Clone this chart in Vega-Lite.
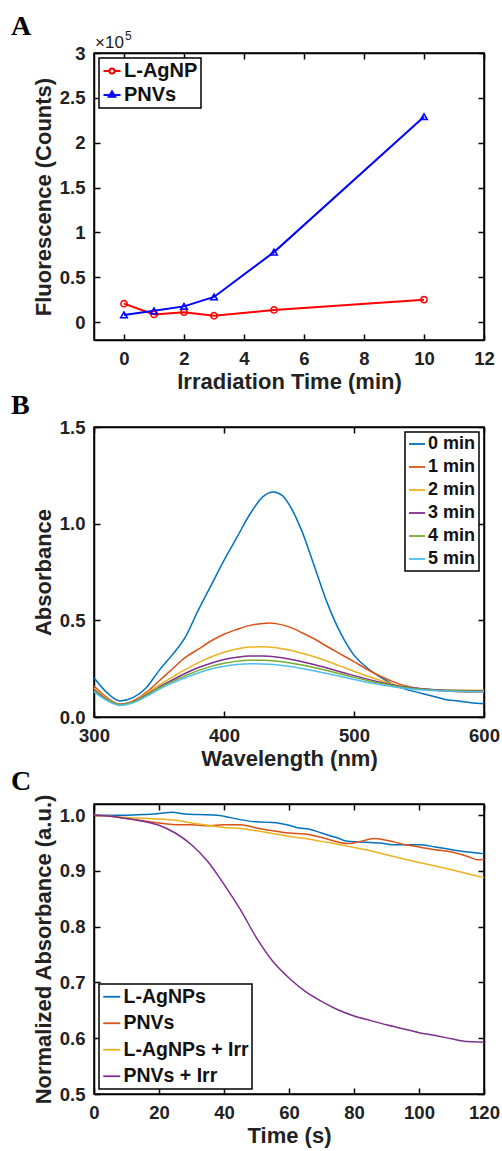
{
  "$schema": "https://vega.github.io/schema/vega-lite/v6.json",
  "padding": {"left": 10, "top": 12, "right": 0, "bottom": 0},
  "background": "white",
  "bounds": "flush",
  "spacing": 87,
  "resolve": {"scale": {"color": "independent"}, "legend": {"color": "independent"}},
  "config": {
    "font": "Liberation Sans",
    "view": {"stroke": "black", "strokeWidth": 1.5},
    "axis": {
      "domainColor": "black", "domainWidth": 1.5,
      "tickColor": "black", "tickWidth": 1.5, "tickSize": -6,
      "labelFont": "Liberation Sans", "labelFontWeight": "bold", "labelFontSize": 18.5, "labelColor": "#222222",
      "labelFlush": false, "labelOverlap": false,
      "titleFont": "Liberation Sans", "titleFontWeight": "bold", "titleFontSize": 22, "titleColor": "#222222",
      "grid": false, "labelPadding": 15, "titlePadding": 4
    },
    "legend": {
      "title": null, "strokeColor": "black", "strokeWidth": 1.5, "fillColor": "white",
      "labelFont": "Liberation Sans", "labelFontWeight": "bold", "labelColor": "#111111",
      "padding": 3, "labelOffset": 2, "symbolStrokeWidth": 1.8
    },
    "title": {"font": "Liberation Serif", "fontSize": 28, "fontWeight": "bold", "color": "black", "anchor": "start", "frame": "group", "baseline": "alphabetic"}
  },
  "vconcat": [
    {
      "width": 390, "height": 287,
      "title": {"text": "A", "dx": -83, "offset": -11},
      "data": {"values": [
        {"time": 0, "series": "L-AgNP", "counts": 20500},
        {"time": 1, "series": "L-AgNP", "counts": 8500},
        {"time": 2, "series": "L-AgNP", "counts": 11000},
        {"time": 3, "series": "L-AgNP", "counts": 7000},
        {"time": 5, "series": "L-AgNP", "counts": 13500},
        {"time": 10, "series": "L-AgNP", "counts": 25000},
        {"time": 0, "series": "PNVs", "counts": 8000},
        {"time": 1, "series": "PNVs", "counts": 12500},
        {"time": 2, "series": "PNVs", "counts": 17500},
        {"time": 3, "series": "PNVs", "counts": 28000},
        {"time": 5, "series": "PNVs", "counts": 78000},
        {"time": 10, "series": "PNVs", "counts": 229000}
      ]},
      "layer": [
        {
          "mark": {"type": "line", "strokeWidth": 2},
          "encoding": {
            "x": {"field": "time", "type": "quantitative", "scale": {"domain": [-1, 12], "nice": false, "zero": false},
                  "axis": {"orient": "bottom", "values": [0, 2, 4, 6, 8, 10, 12], "title": "Irradiation Time (min)"}},
            "y": {"field": "counts", "type": "quantitative", "scale": {"domain": [-20000, 300000], "nice": false, "zero": false},
                  "axis": {"orient": "left", "values": [0, 50000, 100000, 150000, 200000, 250000, 300000], "labelExpr": "datum.value / 100000 + ''", "title": "Fluorescence (Counts)"}},
            "color": {"field": "series", "type": "nominal", "scale": {"domain": ["L-AgNP", "PNVs"], "range": ["#ff0000", "#0000ff"]},
              "legend": {
                "orient": "top-left", "offset": 5, "labelFontSize": 20, "rowPadding": 4, "symbolSize": 289, "symbolStrokeWidth": 2,
                "encode": {"symbols": {"update": {
                  "shape": {"signal": "datum.value === 'L-AgNP' ? 'M-1,0H-0.3M0.3,0H1M-0.3,0A0.3,0.3 0 1,1 0.3,0A0.3,0.3 0 1,1 -0.3,0' : 'M-1,0H1M-0.38,0.22L0,-0.42L0.38,0.22Z'"},
                  "fill": {"signal": "datum.value === 'L-AgNP' ? 'transparent' : '#0000ff'"},
                  "stroke": {"signal": "datum.value === 'L-AgNP' ? '#ff0000' : '#0000ff'"},
                  "strokeWidth": {"value": 2},
                  "opacity": {"value": 1}
                }}}
              }}
          }
        },
        {
          "transform": [{"filter": "datum.series === 'L-AgNP'"}],
          "mark": {"type": "point", "shape": "circle", "filled": false, "strokeWidth": 1.5, "size": 40, "opacity": 1},
          "encoding": {
            "x": {"field": "time", "type": "quantitative", "axis": {"orient": "top", "values": [0, 2, 4, 6, 8, 10, 12], "labels": false, "title": null}},
            "y": {"field": "counts", "type": "quantitative", "axis": {"orient": "right", "values": [0, 50000, 100000, 150000, 200000, 250000, 300000], "labels": false, "title": null}},
            "color": {"field": "series", "type": "nominal"}
          }
        },
        {
          "transform": [{"filter": "datum.series === 'PNVs'"}],
          "mark": {"type": "point", "shape": "triangle-up", "filled": false, "strokeWidth": 1.5, "size": 45, "opacity": 1},
          "encoding": {
            "x": {"field": "time", "type": "quantitative", "axis": null},
            "y": {"field": "counts", "type": "quantitative", "axis": null},
            "color": {"field": "series", "type": "nominal"}
          }
        },
        {
          "data": {"values": [{"note": "×10"}]},
          "mark": {"type": "text", "align": "left", "baseline": "alphabetic", "dx": 1, "dy": -5, "fontSize": 17, "font": "Liberation Sans", "color": "#222222"},
          "encoding": {
            "x": {"datum": -1, "type": "quantitative", "axis": null},
            "y": {"datum": 300000, "type": "quantitative", "axis": null},
            "text": {"field": "note"}
          }
        },
        {
          "data": {"values": [{"note": "5"}]},
          "mark": {"type": "text", "align": "left", "baseline": "alphabetic", "dx": 31, "dy": -13, "fontSize": 12, "font": "Liberation Sans", "color": "#222222"},
          "encoding": {
            "x": {"datum": -1, "type": "quantitative", "axis": null},
            "y": {"datum": 300000, "type": "quantitative", "axis": null},
            "text": {"field": "note"}
          }
        }
      ],
      "resolve": {"axis": {"x": "independent", "y": "independent"}}
    },
    {
      "width": 390, "height": 290,
      "title": {"text": "B", "dx": -83, "offset": -2},
      "data": {"values": [
        {"w":300,"t":"0 min","a":0.203},{"w":310,"t":"0 min","a":0.126},{"w":320,"t":"0 min","a":0.083},{"w":330,"t":"0 min","a":0.10},{"w":340,"t":"0 min","a":0.15},{"w":350,"t":"0 min","a":0.24},{"w":360,"t":"0 min","a":0.32},{"w":370,"t":"0 min","a":0.41},{"w":380,"t":"0 min","a":0.55},{"w":390,"t":"0 min","a":0.68},{"w":400,"t":"0 min","a":0.81},{"w":410,"t":"0 min","a":0.93},{"w":420,"t":"0 min","a":1.05},{"w":430,"t":"0 min","a":1.14},{"w":438,"t":"0 min","a":1.164},{"w":445,"t":"0 min","a":1.145},{"w":450,"t":"0 min","a":1.10},{"w":460,"t":"0 min","a":0.96},{"w":470,"t":"0 min","a":0.77},{"w":480,"t":"0 min","a":0.58},{"w":490,"t":"0 min","a":0.43},{"w":500,"t":"0 min","a":0.32},{"w":510,"t":"0 min","a":0.255},{"w":520,"t":"0 min","a":0.207},{"w":530,"t":"0 min","a":0.169},{"w":540,"t":"0 min","a":0.143},{"w":550,"t":"0 min","a":0.126},{"w":560,"t":"0 min","a":0.109},{"w":570,"t":"0 min","a":0.091},{"w":580,"t":"0 min","a":0.083},{"w":590,"t":"0 min","a":0.074},{"w":600,"t":"0 min","a":0.068},
        {"w":300,"t":"1 min","a":0.16},{"w":310,"t":"1 min","a":0.10},{"w":320,"t":"1 min","a":0.066},{"w":330,"t":"1 min","a":0.083},{"w":340,"t":"1 min","a":0.126},{"w":350,"t":"1 min","a":0.186},{"w":360,"t":"1 min","a":0.247},{"w":370,"t":"1 min","a":0.307},{"w":380,"t":"1 min","a":0.35},{"w":390,"t":"1 min","a":0.393},{"w":400,"t":"1 min","a":0.428},{"w":410,"t":"1 min","a":0.453},{"w":420,"t":"1 min","a":0.474},{"w":430,"t":"1 min","a":0.484},{"w":435,"t":"1 min","a":0.486},{"w":440,"t":"1 min","a":0.483},{"w":450,"t":"1 min","a":0.466},{"w":460,"t":"1 min","a":0.436},{"w":470,"t":"1 min","a":0.402},{"w":480,"t":"1 min","a":0.362},{"w":490,"t":"1 min","a":0.324},{"w":500,"t":"1 min","a":0.286},{"w":510,"t":"1 min","a":0.247},{"w":520,"t":"1 min","a":0.212},{"w":530,"t":"1 min","a":0.183},{"w":540,"t":"1 min","a":0.16},{"w":550,"t":"1 min","a":0.147},{"w":560,"t":"1 min","a":0.14},{"w":570,"t":"1 min","a":0.134},{"w":580,"t":"1 min","a":0.131},{"w":590,"t":"1 min","a":0.129},{"w":600,"t":"1 min","a":0.129},
        {"w":300,"t":"2 min","a":0.15},{"w":310,"t":"2 min","a":0.095},{"w":320,"t":"2 min","a":0.066},{"w":330,"t":"2 min","a":0.08},{"w":340,"t":"2 min","a":0.12},{"w":350,"t":"2 min","a":0.165},{"w":360,"t":"2 min","a":0.205},{"w":370,"t":"2 min","a":0.245},{"w":380,"t":"2 min","a":0.28},{"w":390,"t":"2 min","a":0.31},{"w":400,"t":"2 min","a":0.335},{"w":410,"t":"2 min","a":0.352},{"w":420,"t":"2 min","a":0.362},{"w":430,"t":"2 min","a":0.363},{"w":440,"t":"2 min","a":0.358},{"w":450,"t":"2 min","a":0.347},{"w":460,"t":"2 min","a":0.33},{"w":470,"t":"2 min","a":0.31},{"w":480,"t":"2 min","a":0.287},{"w":490,"t":"2 min","a":0.262},{"w":500,"t":"2 min","a":0.237},{"w":510,"t":"2 min","a":0.212},{"w":520,"t":"2 min","a":0.19},{"w":530,"t":"2 min","a":0.17},{"w":540,"t":"2 min","a":0.155},{"w":550,"t":"2 min","a":0.146},{"w":560,"t":"2 min","a":0.141},{"w":570,"t":"2 min","a":0.139},{"w":580,"t":"2 min","a":0.138},{"w":590,"t":"2 min","a":0.138},{"w":600,"t":"2 min","a":0.138},
        {"w":300,"t":"3 min","a":0.14},{"w":310,"t":"3 min","a":0.09},{"w":320,"t":"3 min","a":0.065},{"w":330,"t":"3 min","a":0.078},{"w":340,"t":"3 min","a":0.113},{"w":350,"t":"3 min","a":0.155},{"w":360,"t":"3 min","a":0.19},{"w":370,"t":"3 min","a":0.225},{"w":380,"t":"3 min","a":0.255},{"w":390,"t":"3 min","a":0.278},{"w":400,"t":"3 min","a":0.297},{"w":410,"t":"3 min","a":0.309},{"w":420,"t":"3 min","a":0.315},{"w":430,"t":"3 min","a":0.315},{"w":440,"t":"3 min","a":0.31},{"w":450,"t":"3 min","a":0.30},{"w":460,"t":"3 min","a":0.286},{"w":470,"t":"3 min","a":0.27},{"w":480,"t":"3 min","a":0.252},{"w":490,"t":"3 min","a":0.233},{"w":500,"t":"3 min","a":0.214},{"w":510,"t":"3 min","a":0.196},{"w":520,"t":"3 min","a":0.18},{"w":530,"t":"3 min","a":0.166},{"w":540,"t":"3 min","a":0.155},{"w":550,"t":"3 min","a":0.147},{"w":560,"t":"3 min","a":0.142},{"w":570,"t":"3 min","a":0.139},{"w":580,"t":"3 min","a":0.137},{"w":590,"t":"3 min","a":0.136},{"w":600,"t":"3 min","a":0.135},
        {"w":300,"t":"4 min","a":0.135},{"w":310,"t":"4 min","a":0.088},{"w":320,"t":"4 min","a":0.063},{"w":330,"t":"4 min","a":0.076},{"w":340,"t":"4 min","a":0.11},{"w":350,"t":"4 min","a":0.15},{"w":360,"t":"4 min","a":0.183},{"w":370,"t":"4 min","a":0.213},{"w":380,"t":"4 min","a":0.24},{"w":390,"t":"4 min","a":0.262},{"w":400,"t":"4 min","a":0.278},{"w":410,"t":"4 min","a":0.289},{"w":420,"t":"4 min","a":0.294},{"w":430,"t":"4 min","a":0.294},{"w":440,"t":"4 min","a":0.29},{"w":450,"t":"4 min","a":0.281},{"w":460,"t":"4 min","a":0.269},{"w":470,"t":"4 min","a":0.255},{"w":480,"t":"4 min","a":0.239},{"w":490,"t":"4 min","a":0.222},{"w":500,"t":"4 min","a":0.205},{"w":510,"t":"4 min","a":0.189},{"w":520,"t":"4 min","a":0.175},{"w":530,"t":"4 min","a":0.162},{"w":540,"t":"4 min","a":0.152},{"w":550,"t":"4 min","a":0.145},{"w":560,"t":"4 min","a":0.14},{"w":570,"t":"4 min","a":0.137},{"w":580,"t":"4 min","a":0.135},{"w":590,"t":"4 min","a":0.134},{"w":600,"t":"4 min","a":0.133},
        {"w":300,"t":"5 min","a":0.13},{"w":310,"t":"5 min","a":0.085},{"w":320,"t":"5 min","a":0.06},{"w":330,"t":"5 min","a":0.073},{"w":340,"t":"5 min","a":0.105},{"w":350,"t":"5 min","a":0.143},{"w":360,"t":"5 min","a":0.175},{"w":370,"t":"5 min","a":0.203},{"w":380,"t":"5 min","a":0.228},{"w":390,"t":"5 min","a":0.248},{"w":400,"t":"5 min","a":0.262},{"w":410,"t":"5 min","a":0.271},{"w":420,"t":"5 min","a":0.275},{"w":430,"t":"5 min","a":0.274},{"w":440,"t":"5 min","a":0.27},{"w":450,"t":"5 min","a":0.262},{"w":460,"t":"5 min","a":0.251},{"w":470,"t":"5 min","a":0.238},{"w":480,"t":"5 min","a":0.224},{"w":490,"t":"5 min","a":0.209},{"w":500,"t":"5 min","a":0.194},{"w":510,"t":"5 min","a":0.18},{"w":520,"t":"5 min","a":0.168},{"w":530,"t":"5 min","a":0.157},{"w":540,"t":"5 min","a":0.148},{"w":550,"t":"5 min","a":0.141},{"w":560,"t":"5 min","a":0.137},{"w":570,"t":"5 min","a":0.134},{"w":580,"t":"5 min","a":0.132},{"w":590,"t":"5 min","a":0.131},{"w":600,"t":"5 min","a":0.13}
      ]},
      "layer": [
        {
          "mark": {"type": "line", "strokeWidth": 1.5, "interpolate": "monotone"},
          "encoding": {
            "x": {"field": "w", "type": "quantitative", "scale": {"domain": [300, 600], "nice": false, "zero": false},
                  "axis": {"orient": "bottom", "values": [300, 400, 500, 600], "title": "Wavelength (nm)"}},
            "y": {"field": "a", "type": "quantitative", "scale": {"domain": [0, 1.5], "nice": false},
                  "axis": {"orient": "left", "values": [0, 0.5, 1, 1.5], "title": "Absorbance"}},
            "color": {"field": "t", "type": "nominal",
                      "scale": {"domain": ["0 min", "1 min", "2 min", "3 min", "4 min", "5 min"], "range": ["#0072BD", "#D95319", "#EDB120", "#7E2F8E", "#77AC30", "#4DBEEE"]},
                      "legend": {"orient": "top-right", "offset": 5, "labelFontSize": 18, "rowPadding": 5, "symbolType": "stroke", "symbolSize": 256, "symbolStrokeWidth": 1.8}}
          }
        },
        {
          "mark": {"type": "line", "opacity": 0},
          "encoding": {
            "x": {"field": "w", "type": "quantitative", "axis": {"orient": "top", "values": [300, 400, 500, 600], "labels": false, "title": null}},
            "y": {"field": "a", "type": "quantitative", "axis": {"orient": "right", "values": [0, 0.5, 1, 1.5], "labels": false, "title": null}},
            "detail": {"field": "t"}
          }
        }
      ],
      "resolve": {"axis": {"x": "independent", "y": "independent"}}
    },
    {
      "width": 390, "height": 290,
      "title": {"text": "C", "dx": -83, "offset": -2},
      "data": {"values": [
        {"s":0,"g":"L-AgNPs","v":1.0},{"s":5,"g":"L-AgNPs","v":1.0},{"s":10,"g":"L-AgNPs","v":1.0},{"s":15,"g":"L-AgNPs","v":1.001},{"s":20,"g":"L-AgNPs","v":1.003},{"s":24,"g":"L-AgNPs","v":1.005},{"s":28,"g":"L-AgNPs","v":1.002},{"s":32,"g":"L-AgNPs","v":1.001},{"s":38,"g":"L-AgNPs","v":1.0},{"s":40,"g":"L-AgNPs","v":0.998},{"s":45,"g":"L-AgNPs","v":0.992},{"s":50,"g":"L-AgNPs","v":0.988},{"s":55,"g":"L-AgNPs","v":0.987},{"s":60,"g":"L-AgNPs","v":0.982},{"s":63,"g":"L-AgNPs","v":0.977},{"s":66,"g":"L-AgNPs","v":0.975},{"s":70,"g":"L-AgNPs","v":0.968},{"s":75,"g":"L-AgNPs","v":0.959},{"s":78,"g":"L-AgNPs","v":0.953},{"s":82,"g":"L-AgNPs","v":0.952},{"s":88,"g":"L-AgNPs","v":0.95},{"s":92,"g":"L-AgNPs","v":0.947},{"s":97,"g":"L-AgNPs","v":0.947},{"s":100,"g":"L-AgNPs","v":0.947},{"s":105,"g":"L-AgNPs","v":0.943},{"s":110,"g":"L-AgNPs","v":0.938},{"s":115,"g":"L-AgNPs","v":0.934},{"s":120,"g":"L-AgNPs","v":0.931},
        {"s":0,"g":"PNVs","v":1.0},{"s":5,"g":"PNVs","v":0.998},{"s":10,"g":"PNVs","v":0.994},{"s":15,"g":"PNVs","v":0.99},{"s":20,"g":"PNVs","v":0.986},{"s":25,"g":"PNVs","v":0.983},{"s":30,"g":"PNVs","v":0.983},{"s":35,"g":"PNVs","v":0.981},{"s":40,"g":"PNVs","v":0.983},{"s":45,"g":"PNVs","v":0.983},{"s":50,"g":"PNVs","v":0.977},{"s":55,"g":"PNVs","v":0.972},{"s":60,"g":"PNVs","v":0.968},{"s":65,"g":"PNVs","v":0.966},{"s":70,"g":"PNVs","v":0.96},{"s":75,"g":"PNVs","v":0.952},{"s":78,"g":"PNVs","v":0.949},{"s":82,"g":"PNVs","v":0.953},{"s":86,"g":"PNVs","v":0.958},{"s":90,"g":"PNVs","v":0.955},{"s":95,"g":"PNVs","v":0.948},{"s":100,"g":"PNVs","v":0.943},{"s":105,"g":"PNVs","v":0.938},{"s":110,"g":"PNVs","v":0.934},{"s":115,"g":"PNVs","v":0.926},{"s":118,"g":"PNVs","v":0.92},{"s":120,"g":"PNVs","v":0.921},
        {"s":0,"g":"L-AgNPs + Irr","v":1.0},{"s":10,"g":"L-AgNPs + Irr","v":0.996},{"s":20,"g":"L-AgNPs + Irr","v":0.993},{"s":25,"g":"L-AgNPs + Irr","v":0.991},{"s":30,"g":"L-AgNPs + Irr","v":0.986},{"s":35,"g":"L-AgNPs + Irr","v":0.982},{"s":40,"g":"L-AgNPs + Irr","v":0.978},{"s":45,"g":"L-AgNPs + Irr","v":0.976},{"s":50,"g":"L-AgNPs + Irr","v":0.972},{"s":55,"g":"L-AgNPs + Irr","v":0.967},{"s":60,"g":"L-AgNPs + Irr","v":0.962},{"s":65,"g":"L-AgNPs + Irr","v":0.958},{"s":70,"g":"L-AgNPs + Irr","v":0.953},{"s":75,"g":"L-AgNPs + Irr","v":0.948},{"s":80,"g":"L-AgNPs + Irr","v":0.942},{"s":85,"g":"L-AgNPs + Irr","v":0.936},{"s":90,"g":"L-AgNPs + Irr","v":0.929},{"s":95,"g":"L-AgNPs + Irr","v":0.922},{"s":100,"g":"L-AgNPs + Irr","v":0.915},{"s":105,"g":"L-AgNPs + Irr","v":0.909},{"s":110,"g":"L-AgNPs + Irr","v":0.902},{"s":115,"g":"L-AgNPs + Irr","v":0.895},{"s":120,"g":"L-AgNPs + Irr","v":0.888},
        {"s":0,"g":"PNVs + Irr","v":1.0},{"s":5,"g":"PNVs + Irr","v":0.998},{"s":10,"g":"PNVs + Irr","v":0.994},{"s":15,"g":"PNVs + Irr","v":0.989},{"s":20,"g":"PNVs + Irr","v":0.982},{"s":25,"g":"PNVs + Irr","v":0.968},{"s":30,"g":"PNVs + Irr","v":0.947},{"s":35,"g":"PNVs + Irr","v":0.917},{"s":40,"g":"PNVs + Irr","v":0.876},{"s":45,"g":"PNVs + Irr","v":0.831},{"s":50,"g":"PNVs + Irr","v":0.78},{"s":55,"g":"PNVs + Irr","v":0.738},{"s":60,"g":"PNVs + Irr","v":0.708},{"s":65,"g":"PNVs + Irr","v":0.684},{"s":70,"g":"PNVs + Irr","v":0.666},{"s":75,"g":"PNVs + Irr","v":0.651},{"s":80,"g":"PNVs + Irr","v":0.64},{"s":85,"g":"PNVs + Irr","v":0.632},{"s":90,"g":"PNVs + Irr","v":0.624},{"s":95,"g":"PNVs + Irr","v":0.617},{"s":100,"g":"PNVs + Irr","v":0.61},{"s":105,"g":"PNVs + Irr","v":0.605},{"s":110,"g":"PNVs + Irr","v":0.599},{"s":115,"g":"PNVs + Irr","v":0.594},{"s":120,"g":"PNVs + Irr","v":0.593}
      ]},
      "layer": [
        {
          "mark": {"type": "line", "strokeWidth": 1.5, "interpolate": "monotone"},
          "encoding": {
            "x": {"field": "s", "type": "quantitative", "scale": {"domain": [0, 120], "nice": false},
                  "axis": {"orient": "bottom", "values": [0, 20, 40, 60, 80, 100, 120], "title": "Time (s)"}},
            "y": {"field": "v", "type": "quantitative", "scale": {"domain": [0.5, 1.02], "nice": false, "zero": false},
                  "axis": {"orient": "left", "values": [0.5, 0.6, 0.7, 0.8, 0.9, 1], "title": "Normalized Absorbance (a.u.)"}},
            "color": {"field": "g", "type": "nominal",
                      "scale": {"domain": ["L-AgNPs", "PNVs", "L-AgNPs + Irr", "PNVs + Irr"], "range": ["#0072BD", "#D95319", "#EDB120", "#7E2F8E"]},
                      "legend": {"orient": "bottom-left", "offset": 5, "labelFontSize": 19.5, "rowPadding": 5.5, "symbolType": "stroke", "symbolSize": 289, "symbolStrokeWidth": 1.8}}
          }
        },
        {
          "mark": {"type": "line", "opacity": 0},
          "encoding": {
            "x": {"field": "s", "type": "quantitative", "axis": {"orient": "top", "values": [0, 20, 40, 60, 80, 100, 120], "labels": false, "title": null}},
            "y": {"field": "v", "type": "quantitative", "axis": {"orient": "right", "values": [0.5, 0.6, 0.7, 0.8, 0.9, 1], "labels": false, "title": null}},
            "detail": {"field": "g"}
          }
        }
      ],
      "resolve": {"axis": {"x": "independent", "y": "independent"}}
    }
  ]
}
